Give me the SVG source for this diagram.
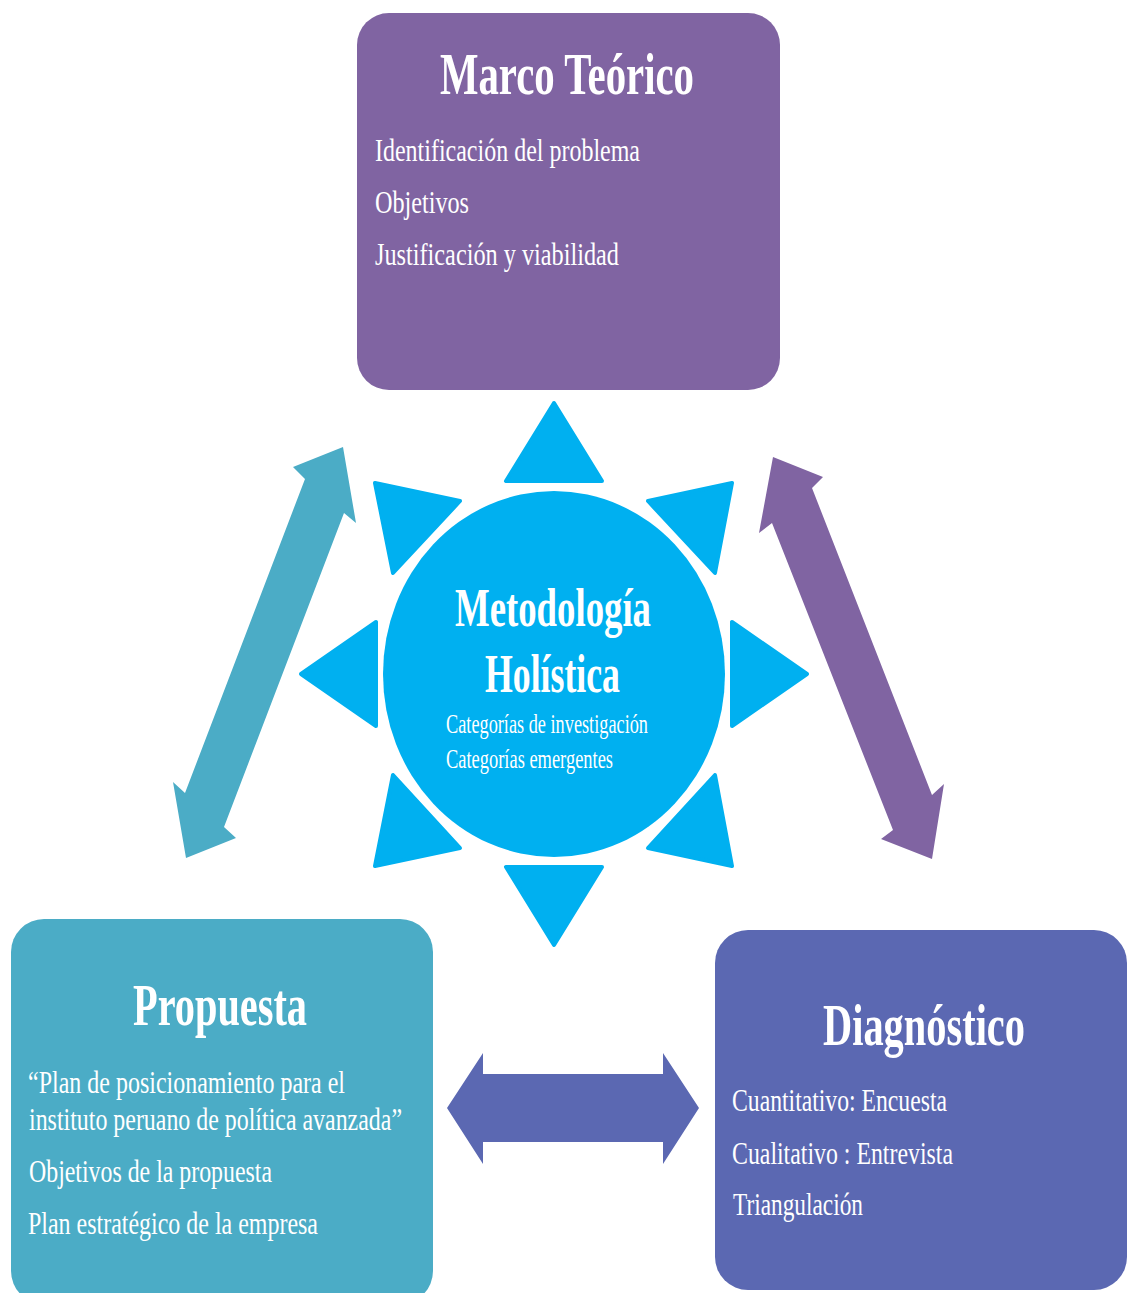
<svg xmlns="http://www.w3.org/2000/svg" width="1127" height="1293" viewBox="0 0 1127 1293">
  <style>
    text { font-family: "Liberation Serif", "Times New Roman", serif; fill: #ffffff; }
    .title { font-weight: bold; font-size: 60px; }
    .core { font-weight: bold; font-size: 55px; }
    .item { font-size: 32px; }
    .sub { font-size: 27px; }
    .ray { fill: #00B0F0; stroke: #00B0F0; stroke-width: 4; stroke-linejoin: round; }
  </style>
  <rect width="1127" height="1293" fill="#ffffff"/>

  <!-- Connectors: double-headed block arrows -->
  <g id="connectors">
    <polygon id="arrow-propuesta-marco" fill="#4BACC6"
      points="343,447 293,467 305,479 185,793 173,782 186,858 236,838 224,827 344,513 356,523"/>
    <polygon id="arrow-marco-diagnostico" fill="#8064A2"
      points="773,457 823,477 812,488 932,795 944,784 932,859 881,839 893,830 772,523 759,533"/>
    <polygon id="arrow-propuesta-diagnostico" fill="#5B68B2"
      points="447,1108 483,1053 483,1074 663,1074 663,1053 699,1108 663,1164 663,1142 483,1142 483,1164"/>
  </g>

  <!-- Central node: circle with radiating triangles -->
  <g id="metodologia">
    <polygon class="ray" points="554,403 506,481 602,481"/>
    <polygon class="ray" points="554,945 506,867 602,867"/>
    <polygon class="ray" points="301,674 376,622 376,726"/>
    <polygon class="ray" points="807,674 732,622 732,726"/>
    <polygon class="ray" points="375,483 460,501 393,573"/>
    <polygon class="ray" points="732,483 648,501 715,573"/>
    <polygon class="ray" points="375,866 393,775 460,848"/>
    <polygon class="ray" points="732,866 715,775 648,848"/>
    <ellipse cx="554" cy="674" rx="171" ry="183" fill="#00B0F0"/>
    <text class="core" x="455" y="626" textLength="196" lengthAdjust="spacingAndGlyphs">Metodología</text>
    <text class="core" x="485" y="692" textLength="135" lengthAdjust="spacingAndGlyphs">Holística</text>
    <text class="sub" x="446" y="733" textLength="202" lengthAdjust="spacingAndGlyphs">Categorías de investigación</text>
    <text class="sub" x="446" y="768" textLength="167" lengthAdjust="spacingAndGlyphs">Categorías emergentes</text>
  </g>

  <!-- Top node -->
  <g id="marco-teorico">
    <rect x="357" y="13" width="423" height="377" rx="32" fill="#8064A2"/>
    <text class="title" x="440" y="94" textLength="254" lengthAdjust="spacingAndGlyphs">Marco Teórico</text>
    <text class="item" x="375" y="161" textLength="265" lengthAdjust="spacingAndGlyphs">Identificación del problema</text>
    <text class="item" x="375" y="213" textLength="94" lengthAdjust="spacingAndGlyphs">Objetivos</text>
    <text class="item" x="375" y="265" textLength="244" lengthAdjust="spacingAndGlyphs">Justificación y viabilidad</text>
  </g>

  <!-- Bottom-left node -->
  <g id="propuesta">
    <rect x="11" y="919" width="422" height="385" rx="33" fill="#4BACC6"/>
    <text class="title" x="133" y="1025" textLength="174" lengthAdjust="spacingAndGlyphs">Propuesta</text>
    <text class="item" x="28" y="1093" textLength="317" lengthAdjust="spacingAndGlyphs">“Plan de posicionamiento para el</text>
    <text class="item" x="29" y="1130" textLength="373" lengthAdjust="spacingAndGlyphs">instituto peruano de política avanzada”</text>
    <text class="item" x="29" y="1182" textLength="243" lengthAdjust="spacingAndGlyphs">Objetivos de la propuesta</text>
    <text class="item" x="28" y="1234" textLength="290" lengthAdjust="spacingAndGlyphs">Plan estratégico de la empresa</text>
  </g>

  <!-- Bottom-right node -->
  <g id="diagnostico">
    <rect x="715" y="930" width="412" height="360" rx="33" fill="#5B68B2"/>
    <text class="title" x="823" y="1045" textLength="202" lengthAdjust="spacingAndGlyphs">Diagnóstico</text>
    <text class="item" x="732" y="1111" textLength="215" lengthAdjust="spacingAndGlyphs">Cuantitativo: Encuesta</text>
    <text class="item" x="732" y="1164" textLength="221" lengthAdjust="spacingAndGlyphs">Cualitativo : Entrevista</text>
    <text class="item" x="733" y="1215" textLength="130" lengthAdjust="spacingAndGlyphs">Triangulación</text>
  </g>
</svg>
